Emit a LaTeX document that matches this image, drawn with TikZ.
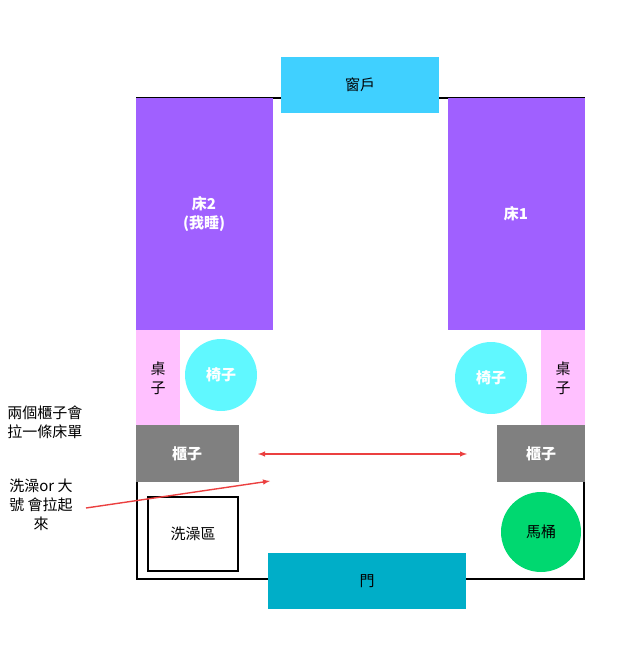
\documentclass[tikz,border=0pt]{standalone}
\usepackage{fontspec}
\setmainfont{Noto Sans CJK TC}
\begin{document}
\begin{tikzpicture}[x=1pt,y=-1pt,
  box/.style={draw=none,inner sep=0,minimum width=#1},
  wt/.style={text=white,font=\fontsize{15}{19}\selectfont\bfseries,align=center},
  bt/.style={text=black,font=\fontsize{15}{19}\selectfont,align=center},
  arr/.style={draw={rgb,255:red,235;green,64;blue,64},line width=1.4pt,-latex}]
\useasboundingbox (0,0) rectangle (626,663);
\definecolor{win}{RGB}{64,208,255}
\definecolor{bed}{RGB}{160,96,255}
\definecolor{desk}{RGB}{255,192,255}
\definecolor{chair}{RGB}{96,248,255}
\definecolor{cab}{RGB}{128,128,128}
\definecolor{toilet}{RGB}{0,216,112}
\definecolor{door}{RGB}{0,174,200}
\draw[line width=2pt] (137,98) rectangle (584,579);
\fill[win] (281,57) rectangle (439,113); \node[bt] (win) at (360,85) {窗戶};
\fill[bed] (136,98) rectangle (273,330); \node[wt] (b2) at (204,214) {床2\\(我睡)};
\fill[bed] (448,98) rectangle (585,330); \node[wt] (b1) at (516,214) {床1};
\fill[desk] (136,330) rectangle (180,425); \node[bt] (d2) at (158,378) {桌\\子};
\fill[desk] (541,330) rectangle (585,425); \node[bt] (d1) at (563,378) {桌\\子};
\fill[chair] (221,375) circle (36); \node[wt] (c2) at (221,375) {椅子};
\fill[chair] (491,378) circle (36); \node[wt] (c1) at (491,378) {椅子};
\fill[cab] (136,425) rectangle (239,482); \node[wt] (k2) at (187,454) {櫃子};
\fill[cab] (497,425) rectangle (585,482); \node[wt] (k1) at (541,454) {櫃子};
\draw[line width=2pt] (148,497) rectangle (238,571); \node[bt] (sh) at (193,534) {洗澡區};
\fill[toilet] (541,532) circle (40); \node[bt] (t) at (541,532) {馬桶};
\fill[door] (268,553) rectangle (466,609); \node[bt] (dr) at (367,581) {門};
\coordinate (a1) at (258,454); \coordinate (a2) at (467,454);
\draw[arr,latex-latex] (a1) -- (a2);
\node[bt,anchor=east] (n1) at (86,422) {兩個櫃子會\\拉一條床單};
\node[bt] (n2) at (41,505) {洗澡or 大\\號 會拉起\\來};
\coordinate (s) at (86,508); \coordinate (e) at (270,481);
\draw[arr] (s) -- (e);
\end{tikzpicture}
\end{document}
